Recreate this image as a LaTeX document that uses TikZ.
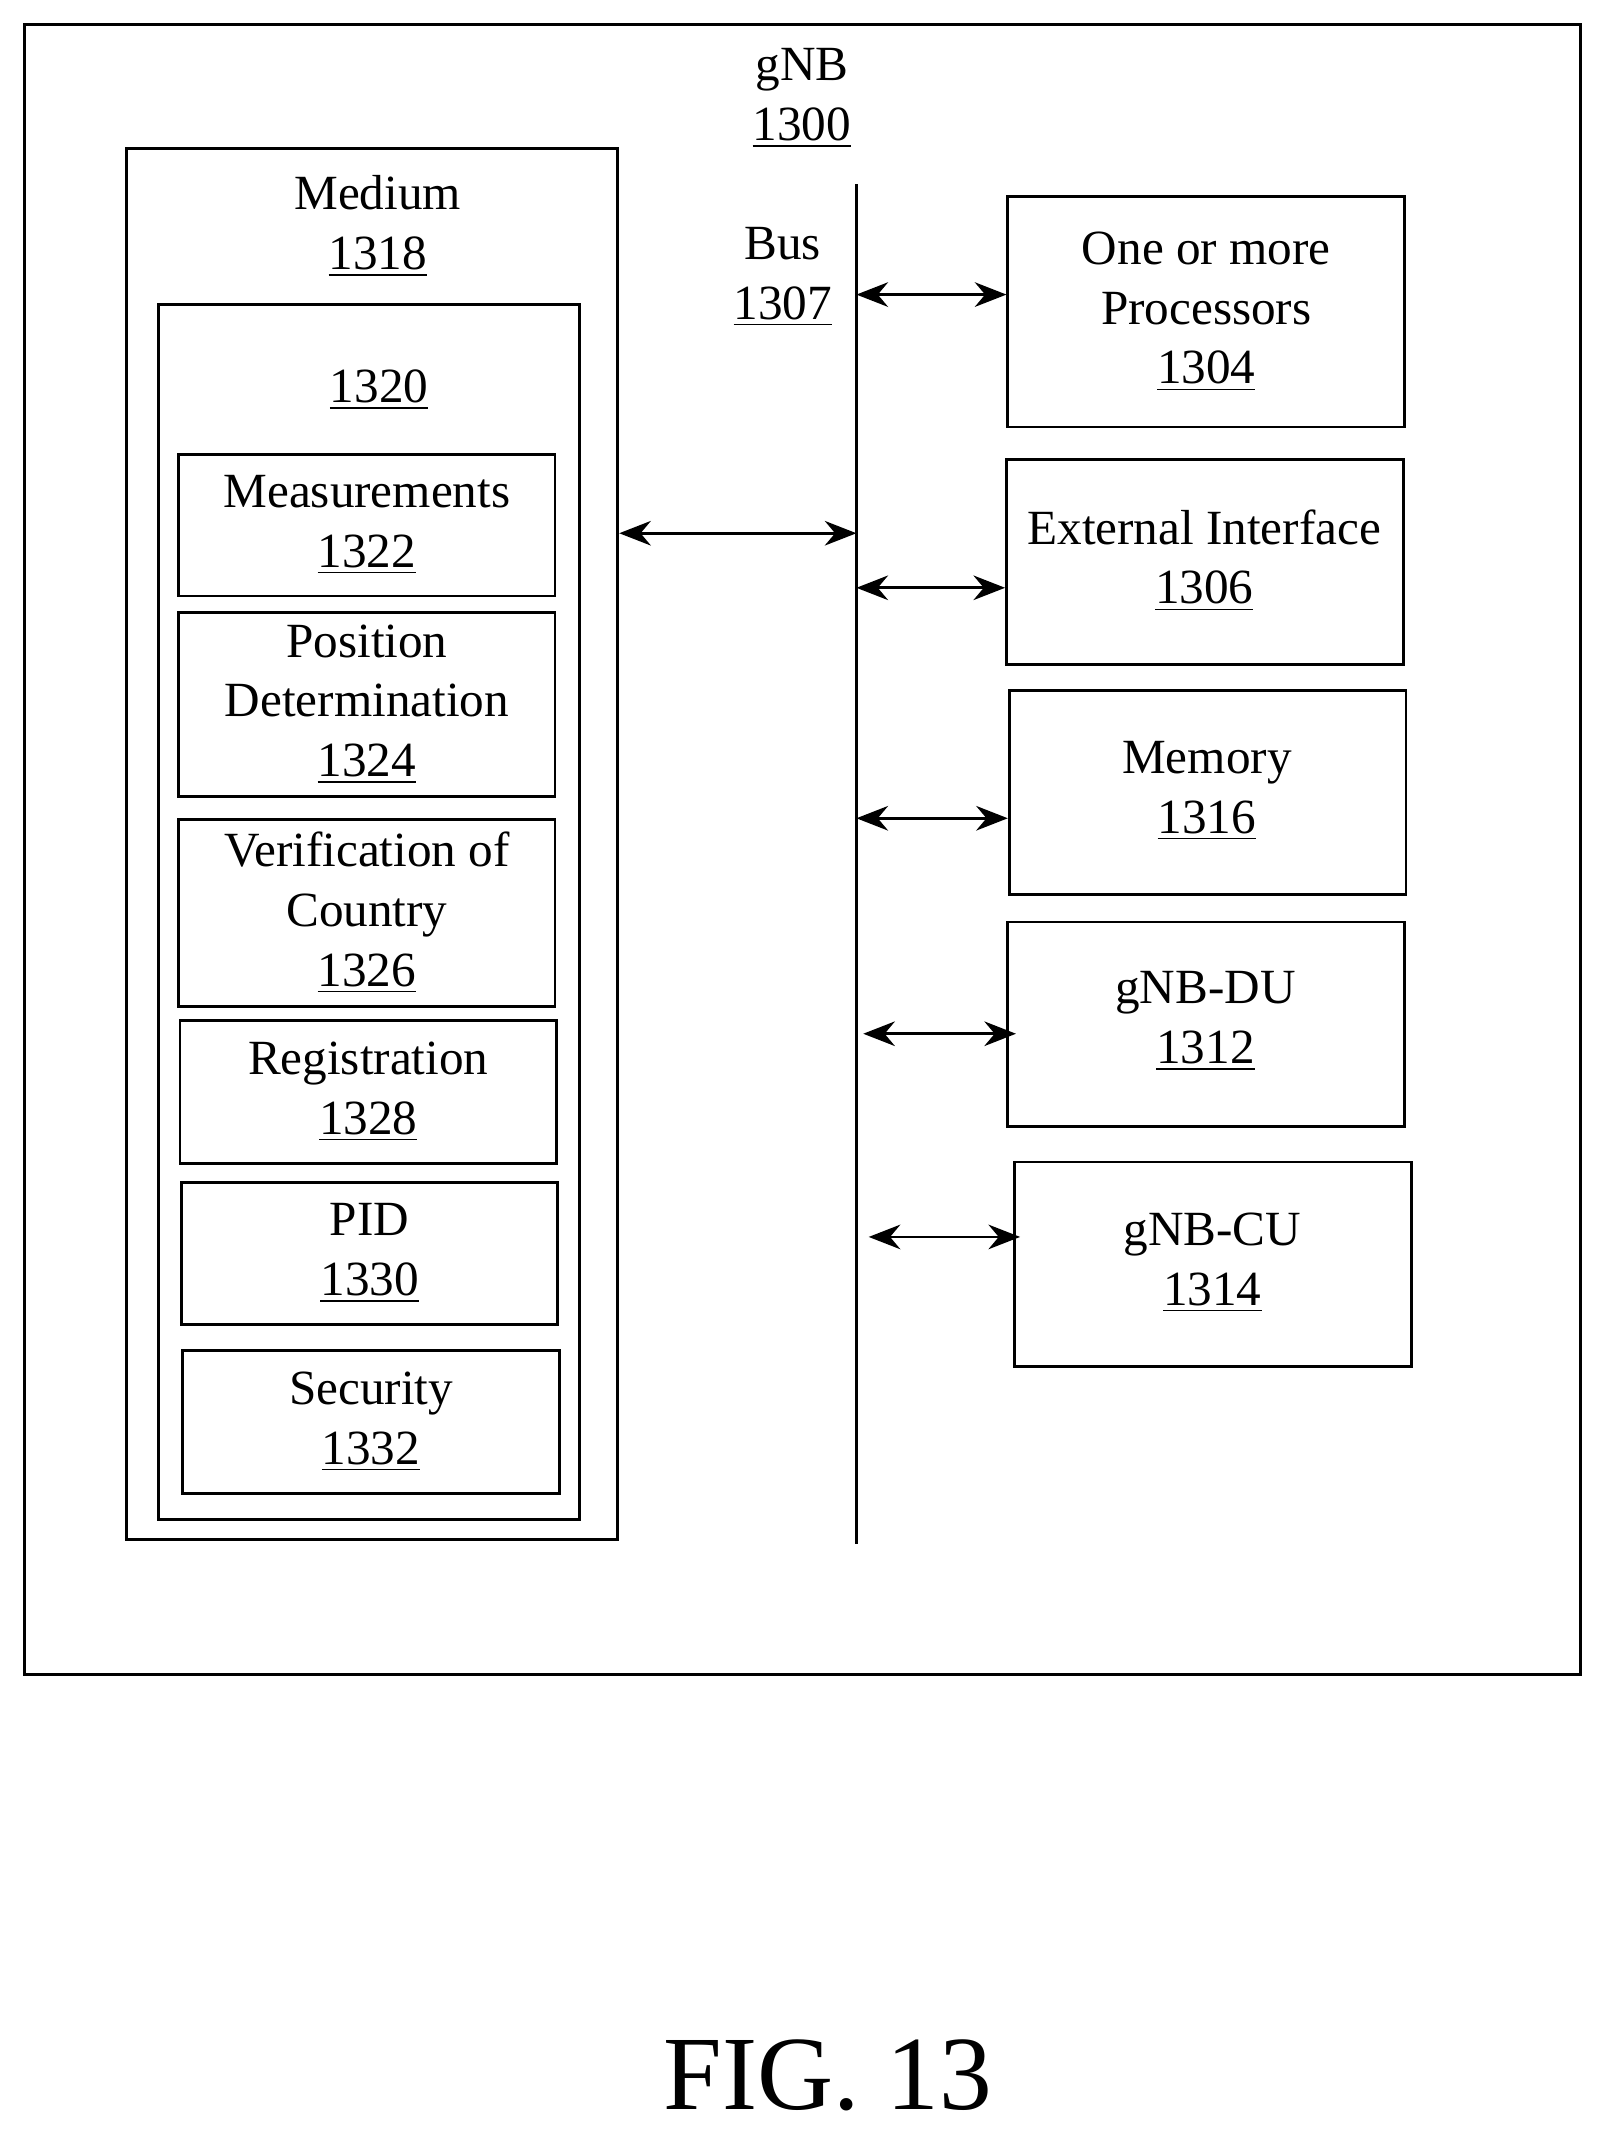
\documentclass[tikz,border=0pt]{standalone}
\usepackage{fontspec}
\setmainfont{Liberation Serif}
\usetikzlibrary{positioning,arrows.meta}
\def\u{0.013646cm}
\tikzset{
  box/.style={draw,line width=0.8pt,anchor=north west,inner sep=0pt,align=center,font=\fontsize{14}{17}\selectfont},
  lbl/.style={align=center,font=\fontsize{14}{17}\selectfont},
  link/.style={{Stealth[length=9pt,width=7pt]}-{Stealth[length=9pt,width=7pt]},line width=0.8pt}
}
\begin{document}
\begin{tikzpicture}[x=\u,y=-\u]
    \useasboundingbox (0,0) rectangle (1174,1567);
    \node[box,minimum width=1141*\u,minimum height=1210*\u] (gnb) at (17,17) {};
    \node[lbl] (gnb_l) at (588,72) {gNB\\\underline{1300}};
    % medium
    \node[box,minimum width=360*\u,minimum height=1020*\u] (med) at (92,108) {};
    \node[lbl] (med_l) at (277,166) {Medium\\\underline{1318}};
    \node[box,minimum width=309*\u,minimum height=891*\u] (m1320) at (115,222) {};
    \node[lbl] (m1320_l) at (278,286) {\underline{1320}};
    \node[box,minimum width=276*\u,minimum height=104*\u] (meas) at (130,332) {Measurements\\\underline{1322}};
    \node[box,minimum width=276*\u,minimum height=135*\u] (pos) at (130,448) {Position\\Determination\\\underline{1324}};
    \node[box,minimum width=276*\u,minimum height=137*\u] (ver) at (130,600) {Verification of\\Country\\\underline{1326}};
    \node[box,minimum width=276*\u,minimum height=105*\u] (reg) at (131,747) {Registration\\\underline{1328}};
    \node[box,minimum width=276*\u,minimum height=104*\u] (pid) at (132,866) {PID\\\underline{1330}};
    \node[box,minimum width=276*\u,minimum height=105*\u] (sec) at (133,989) {Security\\\underline{1332}};
    % bus
    \coordinate (bus_t) at (628,135);
    \coordinate (bus_b) at (628,1132);
    \draw[line width=0.8pt] (bus_t) -- (bus_b);
    \node[lbl] (bus_l) at (574,203) {Bus\\\underline{1307}};
    % right side
    \node[box,minimum width=291*\u,minimum height=169*\u] (proc) at (738,143) {One or more\\Processors\\\underline{1304}};
    \node[box,minimum width=291*\u,minimum height=150*\u] (ext) at (737,336) {};
    \node[lbl] (ext_l) at (883,411) {External Interface\\\underline{1306}};
    \node[box,minimum width=291*\u,minimum height=150*\u] (mem) at (739,505) {};
    \node[lbl] (mem_l) at (885,580) {Memory\\\underline{1316}};
    \node[box,minimum width=291*\u,minimum height=150*\u] (du) at (738,675) {};
    \node[lbl] (du_l) at (884,749) {gNB-DU\\\underline{1312}};
    \node[box,minimum width=291*\u,minimum height=150*\u] (cu) at (743,851) {};
    \node[lbl] (cu_l) at (889,926) {gNB-CU\\\underline{1314}};
    % links
    \draw[link] (med.east |- 0,391) -- (bus_t |- 0,391);
    \draw[link] (bus_t |- 0,216) -- (proc.west |- 0,216);
    \draw[link] (bus_t |- 0,431) -- (ext.west |- 0,431);
    \draw[link] (bus_t |- 0,600) -- (mem.west |- 0,600);
    \draw[link] (633,758) -- ([xshift=7*\u]du.west |- 0,758);
    \draw[link] (637,907) -- ([xshift=5*\u]cu.west |- 0,907);
    \node[font=\fontsize{30}{34}\selectfont] (fig) at (607,1522) {FIG. 13};
\end{tikzpicture}
\end{document}
